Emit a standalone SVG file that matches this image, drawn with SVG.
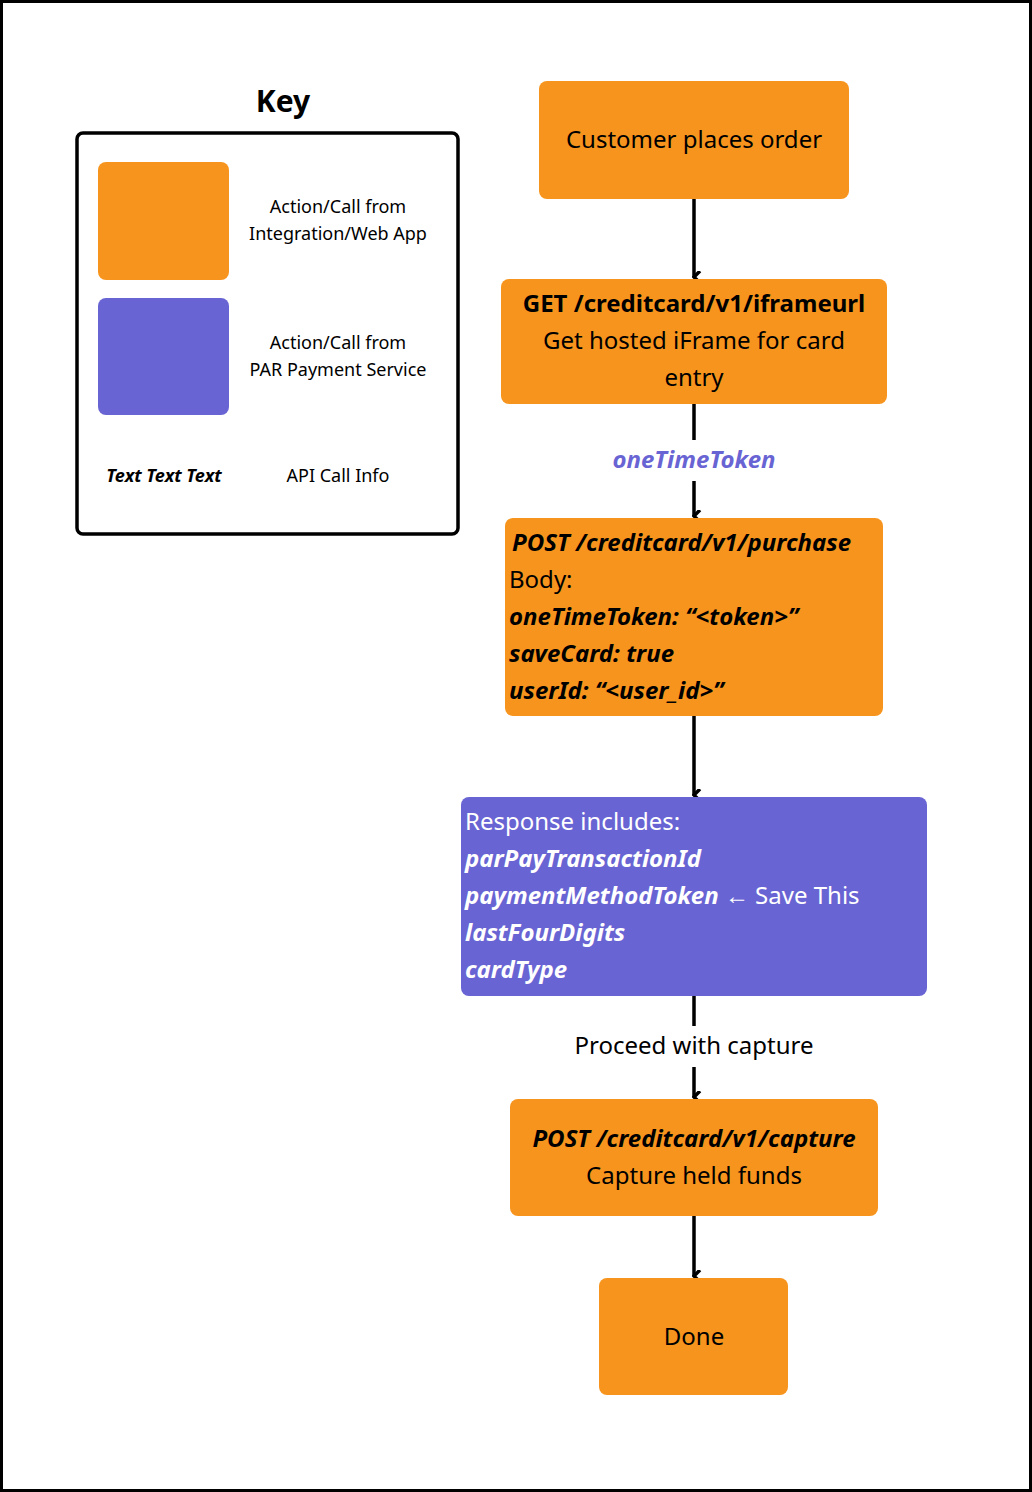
<svg xmlns="http://www.w3.org/2000/svg" width="1032" height="1492" viewBox="0 0 1032 1492">
<style>
text{font-family:"Noto Sans","Open Sans",sans-serif;fill:#000}
.o{fill:#f7941d}
.p{fill:#6964d3}
.t{font-size:24px}
.b{font-weight:bold}
.i{font-style:italic}
.w{fill:#fff}
.k{font-size:18px}
.c{stroke:#000;stroke-width:3.5;fill:none}
</style>
<defs><marker id="a" markerWidth="12" markerHeight="12" refX="6" refY="10" orient="auto" markerUnits="userSpaceOnUse"><path d="M0,4 L6,10 L12,4" fill="none" stroke="#000" stroke-width="3.5"/></marker></defs>
<rect x="1.5" y="1.5" width="1029" height="1489" fill="#fff" stroke="#000" stroke-width="3"/>
<g id="key">
<text x="283" y="112" class="b" font-size="30" text-anchor="middle">Key</text>
<rect x="77" y="133" width="381" height="401" rx="6" fill="none" stroke="#000" stroke-width="3.5"/>
<rect x="98" y="162" width="131" height="118" rx="8" class="o"/>
<rect x="98" y="298" width="131" height="117" rx="8" class="p"/>
<text x="338" y="213" class="k" text-anchor="middle">Action/Call from</text>
<text x="338" y="240" class="k" text-anchor="middle">Integration/Web App</text>
<text x="338" y="349" class="k" text-anchor="middle">Action/Call from</text>
<text x="338" y="376" class="k" text-anchor="middle">PAR Payment Service</text>
<text x="164" y="482" class="k b i" text-anchor="middle">Text Text Text</text>
<text x="338" y="482" class="k" text-anchor="middle">API Call Info</text>
</g>
<g id="connectors">
<path class="c" d="M694,199 V277" marker-end="url(#a)"/>
<path class="c" d="M694,404 V440"/>
<path class="c" d="M694,481 V516" marker-end="url(#a)"/>
<path class="c" d="M694,716 V795" marker-end="url(#a)"/>
<path class="c" d="M694,996 V1026"/>
<path class="c" d="M694,1067 V1097" marker-end="url(#a)"/>
<path class="c" d="M694,1216 V1276" marker-end="url(#a)"/>
<text x="694" y="468" class="t b i" fill="#6964d3" style="fill:#6964d3" text-anchor="middle">oneTimeToken</text>
<text x="694" y="1054" class="t" text-anchor="middle">Proceed with capture</text>
</g>
<g id="n1"><rect x="539" y="81" width="310" height="118" rx="8" class="o"/>
<text x="694" y="148" class="t" text-anchor="middle">Customer places order</text></g>
<g id="n2"><rect x="501" y="279" width="386" height="125" rx="8" class="o"/>
<text x="694" y="312" class="t b" text-anchor="middle">GET /creditcard/v1/iframeurl</text>
<text x="694" y="349" class="t" text-anchor="middle">Get hosted iFrame for card</text>
<text x="694" y="386" class="t" text-anchor="middle">entry</text></g>
<g id="n3"><rect x="505" y="518" width="378" height="198" rx="8" class="o"/>
<text x="512" y="551" class="t b i">POST /creditcard/v1/purchase</text>
<text x="509" y="588" class="t">Body:</text>
<text x="509" y="625" class="t b i">oneTimeToken: “&lt;token&gt;”</text>
<text x="509" y="662" class="t b i">saveCard: true</text>
<text x="509" y="699" class="t b i">userId: “&lt;user_id&gt;”</text></g>
<g id="n4"><rect x="461" y="797" width="466" height="199" rx="8" class="p"/>
<text x="465" y="830" class="t w">Response includes:</text>
<text x="465" y="867" class="t b i w">parPayTransactionId</text>
<text x="465" y="904" class="t w"><tspan class="b i">paymentMethodToken</tspan> ← Save This</text>
<text x="465" y="941" class="t b i w">lastFourDigits</text>
<text x="465" y="978" class="t b i w">cardType</text></g>
<g id="n5"><rect x="510" y="1099" width="368" height="117" rx="8" class="o"/>
<text x="694" y="1147" class="t b i" text-anchor="middle">POST /creditcard/v1/capture</text>
<text x="694" y="1184" class="t" text-anchor="middle">Capture held funds</text></g>
<g id="n6"><rect x="599" y="1278" width="189" height="117" rx="8" class="o"/>
<text x="694" y="1345" class="t" text-anchor="middle">Done</text></g>
</svg>
